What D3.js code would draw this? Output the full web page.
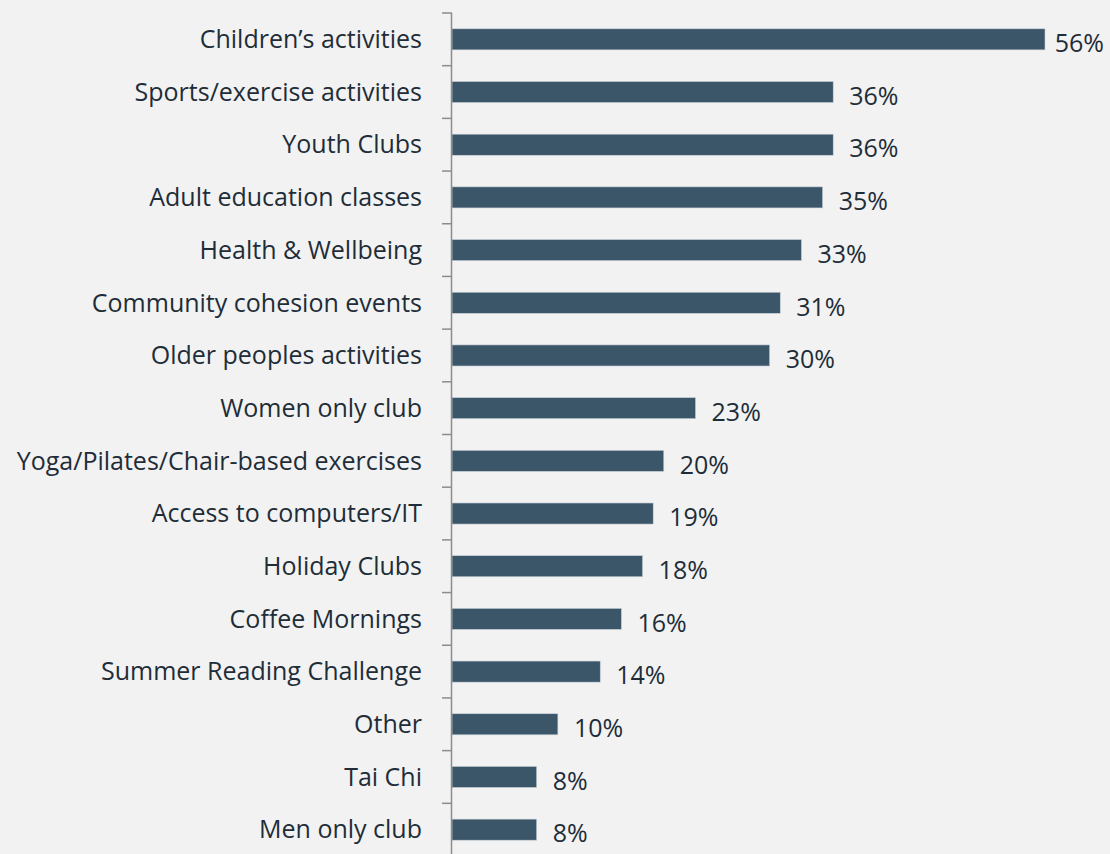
<!DOCTYPE html>
<html>
<head>
<meta charset="utf-8">
<script src="https://cdn.jsdelivr.net/npm/d3@7"></script>
<style>
  html, body { margin: 0; padding: 0; background: #f2f2f2; }
  svg { display: block; }
</style>
</head>
<body>
<svg id="chart" width="1110" height="854"></svg>
<script>
// Activities offered, share of respondents (%)
const categories = [
  "Children’s activities",
  "Sports/exercise activities",
  "Youth Clubs",
  "Adult education classes",
  "Health & Wellbeing",
  "Community cohesion events",
  "Older peoples activities",
  "Women only club",
  "Yoga/Pilates/Chair-based exercises",
  "Access to computers/IT",
  "Holiday Clubs",
  "Coffee Mornings",
  "Summer Reading Challenge",
  "Other",
  "Tai Chi",
  "Men only club"
];
const values = [56, 36, 36, 35, 33, 31, 30, 23, 20, 19, 18, 16, 14, 10, 8, 8];
const valueLabels = values.map(v => v + "%");

const svg = d3.select("#chart");
const W = 1110, H = 854;

svg.append("rect").attr("width", W).attr("height", H).attr("fill", "#f2f2f2");

const axisX = 452;
const x = d3.scaleLinear().domain([0, 56]).range([axisX, 1045]);
const y = d3.scaleBand().domain(categories).range([13, 856]).paddingInner(0.6).paddingOuter(0.3);

const font = "'Open Sans', 'Noto Sans', sans-serif";
const fontSize = 25;
const textColor = "#1e2d38";
const barColor = "#3b5569";

// bars
svg.append("g").selectAll("rect")
  .data(categories)
  .join("rect")
  .attr("x", axisX)
  .attr("y", d => y(d))
  .attr("width", (d, i) => x(values[i]) - axisX)
  .attr("height", y.bandwidth())
  .attr("fill", barColor)
  .attr("stroke", "#c9d2da")
  .attr("stroke-width", 0.6);

// vertical axis with boundary ticks
const step = y.step();
const boundaries = d3.range(categories.length + 1).map(i => 13 + i * step);
const axisG = svg.append("g");
axisG.append("line")
  .attr("x1", axisX - 0.5).attr("x2", axisX - 0.5)
  .attr("y1", 13).attr("y2", H)
  .attr("stroke", "#8c8c8c").attr("stroke-width", 1.5);
axisG.selectAll("line.tick")
  .data(boundaries)
  .join("line")
  .attr("class", "tick")
  .attr("x1", axisX - 10).attr("x2", axisX)
  .attr("y1", d => d).attr("y2", d => d)
  .attr("stroke", "#8c8c8c").attr("stroke-width", 1.5);

// category labels
svg.append("g").selectAll("text")
  .data(categories)
  .join("text")
  .attr("x", 422)
  .attr("y", d => y(d) + y.bandwidth() / 2)
  .attr("dy", "0.35em")
  .attr("text-anchor", "end")
  .attr("font-family", font)
  .attr("font-size", fontSize)
  .attr("fill", textColor)
  .text(d => d);

// value labels, kept inside the right edge
const vl = svg.append("g").selectAll("text")
  .data(categories)
  .join("text")
  .attr("x", (d, i) => x(values[i]) + 16)
  .attr("y", d => y(d) + y.bandwidth() / 2 + 4)
  .attr("dy", "0.35em")
  .attr("font-family", font)
  .attr("font-size", fontSize)
  .attr("fill", textColor)
  .text((d, i) => valueLabels[i]);
vl.each(function() {
  const b = this.getBBox();
  if (b.x + b.width > W - 6) d3.select(this).attr("x", W - 6 - b.width);
});
</script>
</body>
</html>
